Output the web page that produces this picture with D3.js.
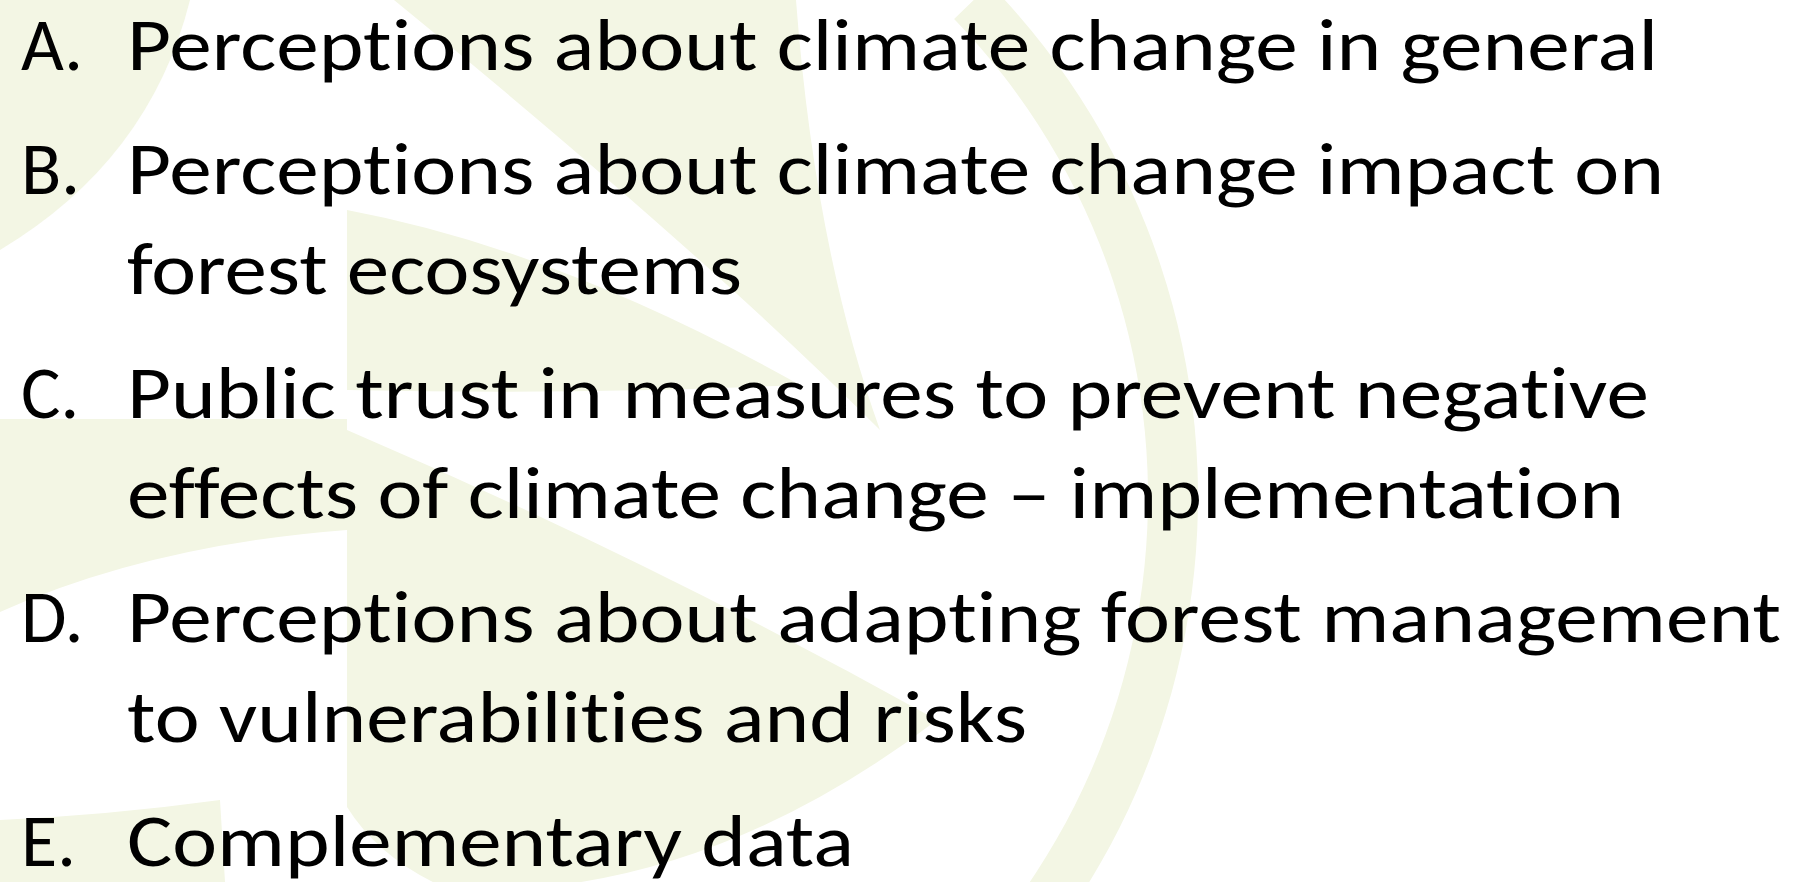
<!DOCTYPE html>
<html>
<head>
<meta charset="utf-8">
<script src="https://cdn.jsdelivr.net/npm/d3@7"></script>
<style>
  html, body { margin: 0; padding: 0; background: #ffffff; overflow: hidden; }
  svg { display: block; }
</style>
</head>
<body>
<div id="slide"></div>
<script>
// slide content
var itemLetters = ['A.', 'B.', 'C.', 'D.', 'E.'];
var itemLines = [
  ['Perceptions about climate change in general'],
  ['Perceptions about climate change impact on', 'forest ecosystems'],
  ['Public trust in measures to prevent negative', 'effects of climate change \u2013 implementation'],
  ['Perceptions about adapting forest management', 'to vulnerabilities and risks'],
  ['Complementary data']
];
// right edge of each printed line
var lineEnds = [1658, 1664, 742, 1649, 1624, 1781, 1027, 854];

var width = 1803, height = 882;
var margin = {left: 21, text: 127, top: 70};
var itemGap = 124, lineGap = 100;
var fontSize = 74;
var tint = '#f3f6e4';
var noLigatures = 'font-variant-ligatures: none; font-feature-settings: "liga" 0, "clig" 0, "dlig" 0, "calt" 0;';

var svg = d3.select('#slide').append('svg')
    .attr('width', width)
    .attr('height', height);

svg.append('rect')
    .attr('width', width)
    .attr('height', height)
    .attr('fill', '#ffffff');

// faint logo in the background (leaves and a ring)
var bg = svg.append('g').attr('class', 'logo');

var leaves = [
  'M0,0 L190,0 Q150,160 0,250 Z',                                   // top-left
  'M0,419 L347,419 L347,530 Q150,545 0,612 Z',                       // left middle
  'M394,0 L796,0 Q815,250 880,430 Q700,250 394,0 Z',                 // leaf pointing up
  'M347,210 Q560,250 800,385 Q580,395 347,390 Z',                    // leaf pointing right
  'M347,430 Q650,560 937,720 Q700,900 450,890 Q380,860 347,807 Z',   // leaf pointing down-right
  'M0,820 Q110,815 220,800 L225,882 L0,882 Z'                        // bottom-left
];

bg.selectAll('path.leaf')
    .data(leaves)
    .enter().append('path')
    .attr('class', 'leaf')
    .attr('d', function(d){ return d; })
    .attr('fill', tint);

// ring on the right
var ring = d3.arc()
    .innerRadius(686)
    .outerRadius(736)
    .startAngle(0.8)
    .endAngle(2.6);

bg.append('path')
    .attr('transform', 'translate(462,497)')
    .attr('d', ring())
    .attr('fill', tint);

// text rows
var rows = [];
var y = margin.top;
itemLetters.forEach(function(letter, i){
    itemLines[i].forEach(function(line, j){
        rows.push({letter: j === 0 ? letter : null, text: line, y: y});
        if(j < itemLines[i].length - 1){
            y += lineGap;
        }
    });
    y += itemGap;
});
rows.forEach(function(r, i){ r.end = lineEnds[i]; });

var txt = svg.append('g')
    .attr('font-family', 'Carlito, Calibri, Lato, sans-serif')
    .attr('font-size', fontSize)
    .attr('fill', '#000000');

txt.selectAll('text.letter')
    .data(rows.filter(function(r){ return r.letter; }))
    .enter().append('text')
    .attr('class', 'letter')
    .attr('x', margin.left)
    .attr('y', function(r){ return r.y; })
    .text(function(r){ return r.letter; });

txt.selectAll('text.line')
    .data(rows)
    .enter().append('text')
    .attr('class', 'line')
    .attr('style', noLigatures)
    .attr('x', margin.text)
    .attr('y', function(r){ return r.y; })
    .attr('textLength', function(r){ return r.end - margin.text; })
    .attr('lengthAdjust', 'spacingAndGlyphs')
    .text(function(r){ return r.text; });
</script>
</body>
</html>
